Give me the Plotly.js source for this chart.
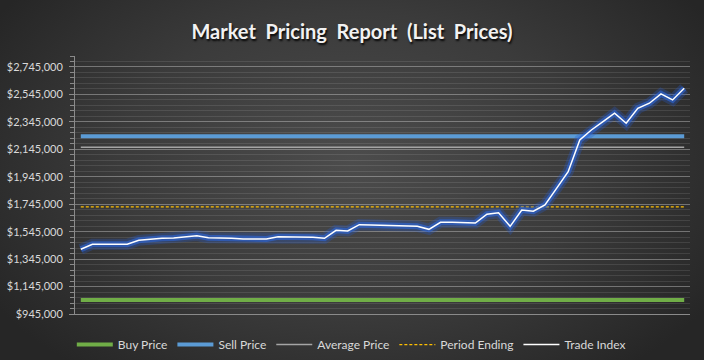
<!DOCTYPE html>
<html>
<head>
<meta charset="utf-8">
<script src="https://cdn.plot.ly/plotly-3.0.1.min.js"></script>
<style>
  html, body { margin: 0; padding: 0; }
  body {
    width: 704px; height: 360px; overflow: hidden;
    background: radial-gradient(ellipse 60% 75% at 50% 45%, #4c4c4c 0%, #3b3b3b 55%, #262626 100%);
  }
  #chart { width: 704px; height: 360px; }
</style>
</head>
<body>
<div id="chart"></div>
<script>
// ---- data ----
const weeks = Array.from({length: 53}, (_, i) => "W" + (i + 1));
const tradeIndex = [
  1417000, 1453000, 1453000, 1453000, 1453000, 1482000, 1492000, 1497000, 1499000, 1506000,
  1516000, 1501000, 1501000, 1497000, 1492000, 1492000, 1492000, 1508000, 1508000, 1508000,
  1504000, 1497000, 1555000, 1550000, 1596000, 1594000, 1592000, 1589000, 1585000, 1584000,
  1562000, 1613000, 1613000, 1613000, 1608000, 1672000, 1683000, 1584000, 1703000, 1694000,
  1740000, 1860000, 1982000, 2213000, 2286000, 2347000, 2408000, 2335000, 2444000, 2481000,
  2549000, 2505000, 2590000
];
const buyPriceValue = 1047000;
const sellPriceValue = 2240000;
const averagePriceValue = 2160000;
const periodEndingValue = 1725000;
const buyPrice = weeks.map(() => buyPriceValue);
const sellPrice = weeks.map(() => sellPriceValue);
const averagePrice = weeks.map(() => averagePriceValue);
const periodEnding = weeks.map(() => periodEndingValue);
const seriesNames = ["Buy Price", "Sell Price", "Average Price", "Period Ending", "Trade Index"];
const yRange = [945000, 2825000];

const font = "Lato, 'Open Sans', sans-serif";

const traces = [
  { x: weeks, y: buyPrice, name: seriesNames[0], mode: "lines",
    line: { color: "#70AD47", width: 4 }, hoverinfo: "skip" },
  { x: weeks, y: sellPrice, name: seriesNames[1], mode: "lines",
    line: { color: "#5B9BD5", width: 4 }, hoverinfo: "skip" },
  { x: weeks, y: averagePrice, name: seriesNames[2], mode: "lines",
    line: { color: "#A5A5A5", width: 1.5 }, hoverinfo: "skip" },
  { x: weeks, y: periodEnding, name: seriesNames[3], mode: "lines",
    line: { color: "#FFC000", width: 1.25, dash: "3px,2px" }, hoverinfo: "skip" },
  // glow for trade index
  { x: weeks, y: tradeIndex, mode: "lines", showlegend: false, hoverinfo: "skip",
    line: { color: "rgba(40,90,200,0.3)", width: 11 } },
  { x: weeks, y: tradeIndex, mode: "lines", showlegend: false, hoverinfo: "skip",
    line: { color: "rgba(45,100,210,0.65)", width: 6 } },
  { x: weeks, y: tradeIndex, name: seriesNames[4], mode: "lines",
    line: { color: "#FFFFFF", width: 1.5 } }
];

const layout = {
  width: 704, height: 360,
  paper_bgcolor: "rgba(0,0,0,0)",
  plot_bgcolor: "rgba(0,0,0,0)",
  margin: { l: 75, r: 14, t: 56, b: 46 },
  title: {
    text: "Market  Pricing  Report  (List  Prices)",
    x: 0.5, xanchor: "center",
    y: 1 - 32 / 360, yanchor: "middle",
    font: { family: font, size: 20, color: "#F2F2F2", weight: "bold",
            shadow: "1px 2px 2px rgba(0,0,0,0.9)" }
  },
  xaxis: {
    type: "category",
    range: [-0.5, 52.5],
    showticklabels: false,
    showgrid: false, zeroline: false,
    showline: true, linecolor: "#8a8a8a", linewidth: 1,
    ticks: "", fixedrange: true
  },
  yaxis: {
    range: yRange,
    tick0: 945000, dtick: 200000,
    tickformat: "$,.0f",
    tickfont: { family: font, size: 11, color: "#D9D9D9" },
    ticks: "outside", ticklen: 5, tickcolor: "#8a8a8a", tickwidth: 1,
    ticklabelstandoff: 4,
    showline: true, linecolor: "#8a8a8a", linewidth: 1,
    showgrid: true, gridcolor: "rgba(200,200,200,0.45)", gridwidth: 1,
    zeroline: false,
    minor: { tick0: 945000, dtick: 40000, showgrid: true,
             gridcolor: "rgba(255,255,255,0.1)", gridwidth: 1,
             ticks: "outside", ticklen: 4, tickcolor: "#8a8a8a" },
    fixedrange: true
  },
  showlegend: true,
  legend: {
    orientation: "h",
    xref: "container", yref: "container",
    x: 0.102, xanchor: "left",
    y: 1 - 344.5 / 360, yanchor: "middle",
    font: { family: font, size: 12, color: "#D9D9D9" },
    bgcolor: "rgba(0,0,0,0)",
    itemwidth: 36,
    traceorder: "normal"
  }
};

Plotly.newPlot("chart", traces, layout, { staticPlot: true, displayModeBar: false });
</script>
</body>
</html>
